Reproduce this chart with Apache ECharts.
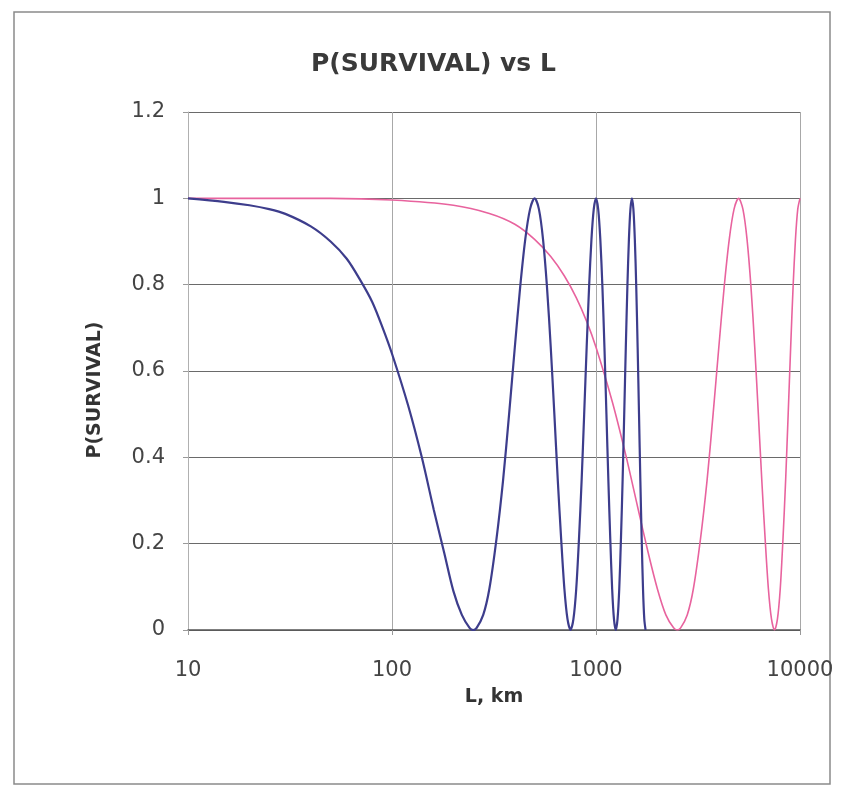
<!DOCTYPE html>
<html>
<head>
<meta charset="utf-8">
<script src="https://cdn.jsdelivr.net/npm/echarts@6/dist/echarts.min.js"></script>
<style>
  html, body { margin: 0; padding: 0; background: #fff; }
  #chart { width: 854px; height: 792px; }
</style>
</head>
<body>
<div id="chart"></div>
<script>
// L (km) and P(SURVIVAL)
const blueL = [10, 15, 20, 25, 30, 40, 50, 60, 70, 80, 90, 100, 120, 140, 160, 180, 200, 220, 240, 250,
  260, 280, 300, 325, 350, 375, 400, 425, 450, 475, 500, 525, 550, 575, 600, 625, 650, 675, 700, 725, 750,
  775, 800, 825, 850, 875, 900, 925, 950, 975, 1000, 1025, 1050, 1075, 1100, 1125, 1150, 1175, 1200, 1225, 1250,
  1275, 1300, 1325, 1350, 1375, 1400, 1425, 1450, 1475, 1500, 1525, 1550, 1575, 1600, 1625, 1650, 1675, 1700, 1725, 1750];
const blueP = [1.0, 0.992, 0.984, 0.975, 0.964, 0.935, 0.9, 0.86, 0.81, 0.76, 0.7, 0.64, 0.52, 0.4, 0.28, 0.18, 0.09, 0.035, 0.005, 0,
  0.005, 0.035, 0.095, 0.21, 0.345, 0.5, 0.655, 0.795, 0.905, 0.975, 1.0, 0.975, 0.905, 0.795, 0.655, 0.5, 0.345, 0.21, 0.095, 0.025, 0,
  0.025, 0.095, 0.21, 0.345, 0.5, 0.655, 0.795, 0.905, 0.975, 1.0, 0.975, 0.905, 0.795, 0.655, 0.5, 0.345, 0.21, 0.095, 0.025, 0,
  0.025, 0.095, 0.21, 0.345, 0.5, 0.655, 0.795, 0.905, 0.975, 1.0, 0.975, 0.905, 0.795, 0.655, 0.5, 0.345, 0.21, 0.095, 0.025, 0];

const pinkL = [10, 20, 50, 100, 200, 300, 400, 500, 600, 700, 800, 900, 1000, 1200, 1400, 1600, 1800, 2000, 2200, 2400, 2500,
  2600, 2800, 3000, 3250, 3500, 3750, 4000, 4250, 4500, 4750, 5000, 5250, 5500, 5750, 6000, 6250, 6500, 6750, 7000, 7250, 7500,
  7750, 8000, 8250, 8500, 8750, 9000, 9250, 9500, 9750, 10000];
const pinkP = [1.0, 1.0, 1.0, 0.996, 0.984, 0.965, 0.94, 0.905, 0.865, 0.82, 0.77, 0.715, 0.655, 0.53, 0.405, 0.285, 0.18, 0.095, 0.035, 0.005, 0,
  0.005, 0.035, 0.095, 0.21, 0.345, 0.5, 0.655, 0.795, 0.905, 0.975, 1.0, 0.975, 0.905, 0.795, 0.655, 0.5, 0.345, 0.21, 0.095, 0.025, 0,
  0.025, 0.095, 0.21, 0.345, 0.5, 0.655, 0.795, 0.905, 0.975, 1.0];

const xTicks = [10, 100, 1000, 10000];
const yTicks = [0, 0.2, 0.4, 0.6, 0.8, 1, 1.2];

const chart = echarts.init(document.getElementById('chart'));
const font = 'DejaVu Sans, Verdana, sans-serif';

chart.setOption({
  animation: false,
  backgroundColor: '#fff',
  title: {
    text: 'P(SURVIVAL) vs L',
    left: 306,
    top: 47,
    textStyle: { fontFamily: font, fontSize: 25, fontWeight: 'bold', color: '#3a3a3a' }
  },
  graphic: [
    {
      type: 'rect',
      shape: { x: 14, y: 12, width: 816, height: 772 },
      style: { fill: 'none', stroke: '#8a8a8a', lineWidth: 1.5 },
      silent: true
    },
    {
      type: 'text',
      x: 95,
      y: 390,
      rotation: Math.PI / 2,
      style: {
        text: 'P(SURVIVAL)',
        fontFamily: font, fontSize: 19, fontWeight: 'bold', fill: '#333',
        align: 'center', verticalAlign: 'middle'
      },
      silent: true
    }
  ],
  grid: { left: 188, right: 54, top: 112, bottom: 162 },
  xAxis: {
    type: 'log',
    logBase: 10,
    min: xTicks[0],
    max: xTicks[xTicks.length - 1],
    name: 'L, km',
    nameLocation: 'middle',
    nameGap: 58,
    nameTextStyle: { fontFamily: font, fontSize: 19, fontWeight: 'bold', color: '#333' },
    axisLine: { show: true, onZero: false, lineStyle: { color: '#555', width: 1.5 } },
    axisTick: { show: true, length: 5, lineStyle: { color: '#999' } },
    axisLabel: {
      fontFamily: font, fontSize: 21, color: '#444', margin: 30,
      formatter: v => (xTicks.indexOf(Math.round(v)) >= 0 ? String(Math.round(v)) : '')
    },
    splitLine: { show: true, lineStyle: { color: '#a8a8a8', width: 1 } },
    minorTick: { show: false }
  },
  yAxis: {
    type: 'value',
    min: 0,
    max: 1.2,
    interval: 0.2,
    axisLine: { show: true, lineStyle: { color: '#b0b0b0', width: 1 } },
    axisTick: { show: true, length: 5, lineStyle: { color: '#999' } },
    axisLabel: {
      fontFamily: font, fontSize: 21, color: '#444', margin: 23,
      formatter: v => {
        const t = yTicks.find(y => Math.abs(y - v) < 1e-6);
        return t === undefined ? '' : String(t);
      }
    },
    splitLine: { show: true, lineStyle: { color: '#6a6a6a', width: 1 } }
  },
  series: [
    {
      name: 'blue',
      type: 'line',
      data: blueL.map((l, i) => [l, blueP[i]]),
      showSymbol: false,
      smooth: 0.3,
      lineStyle: { color: '#3d3d8c', width: 2.2 },
      z: 3
    },
    {
      name: 'pink',
      type: 'line',
      data: pinkL.map((l, i) => [l, pinkP[i]]),
      showSymbol: false,
      smooth: 0.3,
      lineStyle: { color: '#e8639e', width: 1.6 },
      z: 2
    }
  ]
});
</script>
</body>
</html>
